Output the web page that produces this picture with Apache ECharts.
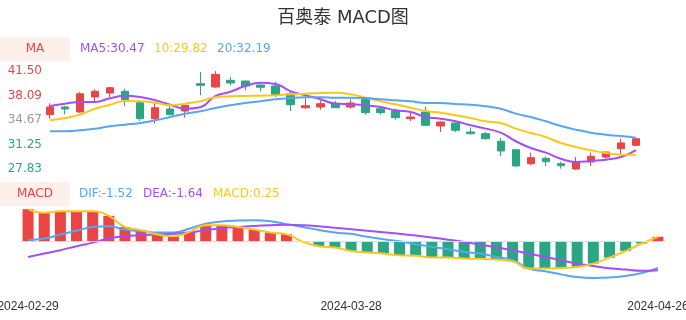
<!DOCTYPE html>
<html>
<head>
<meta charset="utf-8">
<script src="https://cdn.jsdelivr.net/npm/echarts@6/dist/echarts.min.js"></script>
<style>
html,body{margin:0;padding:0;background:#fff;}
#chart{width:686px;height:320px;}
</style>
</head>
<body>
<div id="chart"></div>
<script>
const titleText = '百奥泰 MACD图';
const dates = ['2024-02-29','2024-03-01','2024-03-04','2024-03-05','2024-03-06','2024-03-07','2024-03-08',
  '2024-03-11','2024-03-12','2024-03-13','2024-03-14','2024-03-15',
  '2024-03-18','2024-03-19','2024-03-20','2024-03-21','2024-03-22',
  '2024-03-25','2024-03-26','2024-03-27','2024-03-28','2024-03-29',
  '2024-04-01','2024-04-02','2024-04-03',
  '2024-04-08','2024-04-09','2024-04-10','2024-04-11','2024-04-12',
  '2024-04-15','2024-04-16','2024-04-17','2024-04-18','2024-04-19',
  '2024-04-22','2024-04-23','2024-04-24','2024-04-25','2024-04-26'];
const openP  = [35.41,36.48,35.78,37.87,38.43,38.67,37.08,34.85,36.20,35.92,39.73,39.27,40.20,40.10,39.55,39.41,38.33,36.38,36.48,36.94,36.48,37.55,36.24,35.92,34.85,35.78,33.83,34.25,32.99,32.76,31.70,30.52,28.57,29.32,28.57,27.83,28.81,29.50,30.66,31.14];
const closeP = [36.48,36.20,38.33,38.67,39.17,37.50,34.85,36.38,35.41,36.71,39.50,41.03,39.83,39.41,39.23,38.11,36.80,36.66,36.94,36.38,37.04,35.69,35.69,34.99,35.08,33.93,34.39,33.23,32.76,32.06,30.34,28.25,29.41,28.85,28.29,28.81,29.60,30.20,31.46,32.06];
const lowP   = [34.85,35.46,35.68,37.27,37.87,36.62,34.53,34.15,35.32,34.99,38.11,39.17,39.50,38.80,38.67,37.87,35.92,36.24,36.10,36.34,36.24,35.41,35.41,34.71,34.53,33.83,32.99,32.99,32.62,31.92,29.65,28.20,28.35,28.25,27.88,27.70,28.25,29.27,29.97,31.05];
const highP  = [37.00,36.62,38.57,38.95,39.31,39.03,37.27,37.08,36.71,36.94,41.36,41.50,40.66,40.15,39.60,39.97,38.57,37.78,37.41,37.32,37.55,37.73,36.30,36.24,35.64,36.48,34.45,34.30,33.60,32.99,32.16,30.55,30.11,29.60,28.85,29.50,30.11,30.25,32.06,32.16];
const ma5  = [36.62,36.94,37.18,37.18,37.70,38.05,37.87,37.41,36.80,36.24,36.45,38.00,38.60,39.40,39.85,39.70,38.70,38.12,37.55,36.95,36.85,36.71,36.48,36.02,35.78,35.08,34.85,34.48,33.93,33.46,32.90,31.70,30.76,30.11,29.27,28.81,28.95,29.13,29.50,30.47];
const ma10 = [34.62,34.94,35.41,36.24,36.80,37.32,37.27,37.08,36.71,36.94,37.27,37.83,37.97,38.01,38.06,38.10,38.25,38.33,38.43,38.45,38.25,37.78,37.27,36.85,36.38,35.92,35.69,35.32,34.94,34.48,34.25,33.46,32.85,32.30,31.46,30.90,30.44,30.06,29.83,29.82];
const ma20 = [33.09,33.09,33.23,33.46,33.79,34.01,34.25,34.62,35.08,35.55,35.88,36.34,36.71,37.04,37.27,37.55,37.73,37.83,37.83,37.78,37.78,37.73,37.55,37.41,37.27,37.04,37.04,36.90,36.80,36.57,36.24,35.55,35.08,34.48,33.83,33.31,32.90,32.62,32.43,32.19];
const dif  = [0.06,0.15,0.38,0.59,0.81,0.85,0.66,0.57,0.49,0.49,0.72,1.00,1.12,1.17,1.19,1.14,0.97,0.81,0.64,0.49,0.42,0.25,0.11,0.00,-0.17,-0.32,-0.45,-0.61,-0.70,-0.89,-1.08,-1.55,-1.70,-1.88,-2.03,-2.08,-2.06,-1.97,-1.80,-1.52];
const dea  = [-0.89,-0.70,-0.51,-0.28,-0.08,0.15,0.28,0.34,0.38,0.42,0.49,0.63,0.74,0.81,0.87,0.91,0.93,0.91,0.85,0.76,0.68,0.59,0.51,0.42,0.32,0.21,0.09,-0.04,-0.19,-0.34,-0.51,-0.70,-0.89,-1.08,-1.27,-1.40,-1.53,-1.61,-1.67,-1.64];
const macd = [1.82,1.61,1.70,1.70,1.70,1.44,0.81,0.63,0.38,0.28,0.53,0.91,0.91,0.81,0.66,0.49,0.40,-0.03,-0.28,-0.36,-0.55,-0.64,-0.70,-0.80,-0.83,-0.93,-0.93,-0.98,-1.00,-1.04,-1.14,-1.55,-1.55,-1.52,-1.46,-1.27,-0.93,-0.55,-0.13,0.25];
const yTickLabels = ['27.83','31.25','34.67','38.09','41.50'];
const xLabelIdx = [0, 20, 39];

const RED = '#ea4444', GREEN = '#2ba684', GRAY = '#999999';
const PURPLE = '#a34ff5', YELLOW = '#fcc71c', BLUE = '#58a5f2';
const yTickVals = yTickLabels.map(Number);
const refVal = yTickVals[2];
const candles = openP.map((o, i) => [o, closeP[i], lowP[i], highP[i]]);
const last = a => a[a.length - 1];
const fmt = v => v.toFixed(2);

const chart = echarts.init(document.getElementById('chart'), null, {renderer: 'canvas'});
const FF = '"DejaVu Sans", "Noto Sans CJK SC", sans-serif';
const tFont = '12px ' + FF;
chart.setOption({
  animation: false,
  backgroundColor: '#fff',
  textStyle: {fontFamily: FF},
  title: {text: titleText, left: 'center', top: 4, textStyle: {fontSize: 18, fontWeight: 'normal', color: '#333', fontFamily: FF}},
  graphic: [
    {type: 'rect', left: 0, top: 37, shape: {width: 70, height: 24}, style: {fill: '#fdf0eb'}},
    {type: 'text', x: 35, y: 49, style: {text: 'MA', fill: RED, font: tFont, align: 'center', verticalAlign: 'middle'}},
    {type: 'text', x: 80, y: 49, style: {text: 'MA5:' + fmt(last(ma5)), fill: PURPLE, font: tFont, verticalAlign: 'middle'}},
    {type: 'text', x: 154, y: 49, style: {text: '10:' + fmt(last(ma10)), fill: YELLOW, font: tFont, verticalAlign: 'middle'}},
    {type: 'text', x: 217, y: 49, style: {text: '20:' + fmt(last(ma20)), fill: BLUE, font: tFont, verticalAlign: 'middle'}},
    {type: 'rect', left: 0, top: 182, shape: {width: 70, height: 24}, style: {fill: '#fdf0eb'}},
    {type: 'text', x: 35, y: 194, style: {text: 'MACD', fill: RED, font: tFont, align: 'center', verticalAlign: 'middle'}},
    {type: 'text', x: 79, y: 194, style: {text: 'DIF:' + fmt(last(dif)), fill: BLUE, font: tFont, verticalAlign: 'middle'}},
    {type: 'text', x: 143, y: 194, style: {text: 'DEA:' + fmt(last(dea)), fill: PURPLE, font: tFont, verticalAlign: 'middle'}},
    {type: 'text', x: 213, y: 194, style: {text: 'MACD:' + fmt(last(macd)), fill: YELLOW, font: tFont, verticalAlign: 'middle'}}
  ],
  grid: [
    {left: 50, right: 50, top: 71, height: 98, outerBoundsMode: 'none'},
    {left: 20, right: 20, top: 206, height: 74, outerBoundsMode: 'none'}
  ],
  xAxis: [
    {type: 'category', gridIndex: 0, data: dates, boundaryGap: false, show: false},
    {type: 'category', gridIndex: 1, data: dates, boundaryGap: true,
     axisLine: {show: false}, axisTick: {show: false}, splitLine: {show: false},
     axisLabel: {margin: 21, fontSize: 12, color: '#333', fontFamily: 'sans-serif', interval: (i) => xLabelIdx.indexOf(i) >= 0}}
  ],
  yAxis: [
    {type: 'value', gridIndex: 0, min: yTickVals[0], max: yTickVals[yTickVals.length - 1],
     axisLine: {show: false}, axisTick: {show: false}, splitLine: {show: false},
     axisLabel: {fontSize: 12, margin: 8, fontFamily: FF, customValues: yTickVals,
       formatter: (v) => { const k = yTickVals.findIndex(t => Math.abs(t - v) < 0.005); return k >= 0 ? yTickLabels[k] : ''; },
       color: (v) => { const n = Number(v); return Math.abs(n - refVal) < 0.005 ? GRAY : (n > refVal ? RED : GREEN); }}},
    {type: 'value', gridIndex: 1, min: -2.2, max: 2.0, show: false, splitLine: {show: false}}
  ],
  series: [
    {type: 'candlestick', xAxisIndex: 0, yAxisIndex: 0, data: candles, barWidth: 8, clip: false,
     itemStyle: {color: RED, color0: GREEN, borderColor: RED, borderColor0: GREEN, borderWidth: 1}},
    {type: 'line', name: 'MA5', xAxisIndex: 0, yAxisIndex: 0, data: ma5, smooth: true, showSymbol: false, lineStyle: {width: 2, color: PURPLE}, itemStyle: {color: PURPLE}},
    {type: 'line', name: 'MA10', xAxisIndex: 0, yAxisIndex: 0, data: ma10, smooth: true, showSymbol: false, lineStyle: {width: 2, color: YELLOW}, itemStyle: {color: YELLOW}},
    {type: 'line', name: 'MA20', xAxisIndex: 0, yAxisIndex: 0, data: ma20, smooth: true, showSymbol: false, lineStyle: {width: 2, color: BLUE}, itemStyle: {color: BLUE}},
    {type: 'bar', name: 'MACDbar', xAxisIndex: 1, yAxisIndex: 1, data: macd, barWidth: 11,
     itemStyle: {color: (p) => p.value >= 0 ? RED : GREEN},
     markLine: {silent: true, symbol: ['none', 'none'], label: {show: false}, lineStyle: {color: '#dddddd', width: 1, type: 'solid'}, data: [{yAxis: 0}]}},
    {type: 'line', name: 'DIF', xAxisIndex: 1, yAxisIndex: 1, data: dif, smooth: true, showSymbol: false, lineStyle: {width: 2, color: BLUE}},
    {type: 'line', name: 'DEA', xAxisIndex: 1, yAxisIndex: 1, data: dea, smooth: true, showSymbol: false, lineStyle: {width: 2, color: PURPLE}},
    {type: 'line', name: 'MACD', xAxisIndex: 1, yAxisIndex: 1, data: macd, smooth: true, showSymbol: false, lineStyle: {width: 2, color: YELLOW}}
  ]
});
</script>
</body>
</html>
